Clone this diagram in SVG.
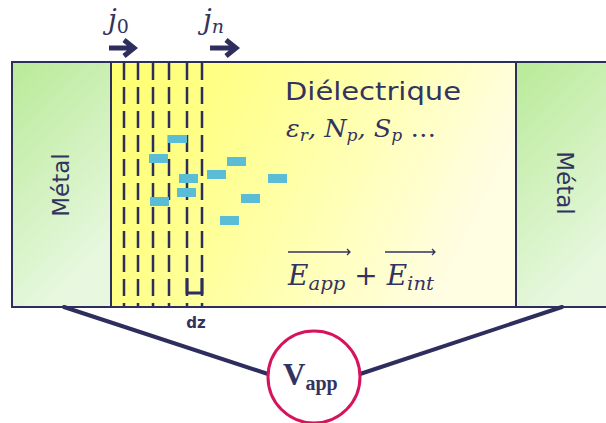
<svg xmlns="http://www.w3.org/2000/svg" width="606" height="423" viewBox="0 0 606 423">
<defs>
<linearGradient id="gMetal" x1="0" y1="0" x2="0.4" y2="1">
<stop offset="0" stop-color="#b9ea98"/>
<stop offset="1" stop-color="#e8f8e0"/>
</linearGradient>
<linearGradient id="gDiel" x1="0" y1="0" x2="1" y2="0.3">
<stop offset="0" stop-color="#ffff70"/>
<stop offset="0.3" stop-color="#ffff8a"/>
<stop offset="0.7" stop-color="#ffffbb"/>
<stop offset="1" stop-color="#fffde2"/>
</linearGradient>
<style>
.box{stroke:#2e2e5e;stroke-width:2}
.dash{stroke:#2e2e5e;stroke-width:2.5;stroke-dasharray:17 7;fill:none}
.trap{fill:#5bbcd6}
.conn{stroke:#2e2e5e;stroke-width:4;fill:none;stroke-linecap:round}
.arr{stroke:#2e2e5e;stroke-width:5;fill:none}
.sans{font-family:"DejaVu Sans","Liberation Sans",sans-serif;fill:#333360}
.math{font-family:"DejaVu Serif","Liberation Serif",serif;font-style:italic;fill:#333360}
.ov{stroke:#333360;stroke-width:1.3;fill:none}
</style>
</defs>
<g id="dielectrique">
<rect class="box" x="111" y="62" width="405" height="245" fill="url(#gDiel)"/>
<text class="sans" x="285" y="100" font-size="24" textLength="176" lengthAdjust="spacingAndGlyphs">Diélectrique</text>
<text class="math" x="286" y="137" font-size="24" textLength="150" lengthAdjust="spacingAndGlyphs">ε<tspan font-size="16" dy="4">r</tspan><tspan dy="-4">, N</tspan><tspan font-size="16" dy="4">p</tspan><tspan dy="-4">, S</tspan><tspan font-size="16" dy="4">p</tspan><tspan dy="-4" font-style="normal"> …</tspan></text>
</g>
<g id="metal-gauche">
<rect class="box" x="12" y="62" width="99" height="245" fill="url(#gMetal)"/>
<text class="sans" font-size="23" text-anchor="middle" transform="translate(69,185) rotate(-90)">Métal</text>
</g>
<g id="metal-droit">
<rect class="box" x="516" y="62" width="100" height="245" fill="url(#gMetal)"/>
<text class="sans" font-size="23" text-anchor="middle" transform="translate(557,183) rotate(90)">Métal</text>
</g>
<g id="plans">
<line class="dash" x1="124" y1="63" x2="124" y2="306"/>
<line class="dash" x1="138" y1="63" x2="138" y2="306"/>
<line class="dash" x1="153" y1="63" x2="153" y2="306"/>
<line class="dash" x1="169" y1="63" x2="169" y2="306"/>
<line class="dash" x1="187" y1="63" x2="187" y2="306"/>
<line class="dash" x1="202" y1="63" x2="202" y2="306"/>
<path d="M187 278 V293 H202 V278" stroke="#2e2e5e" stroke-width="3" fill="none"/>
<text x="196" y="328" font-size="15" font-weight="bold" text-anchor="middle" class="sans">dz</text>
</g>
<g id="pieges">
<rect class="trap" x="168" y="135" width="19" height="8"/>
<rect class="trap" x="149" y="154" width="19" height="9"/>
<rect class="trap" x="227" y="157" width="19" height="9"/>
<rect class="trap" x="207" y="170" width="19" height="9"/>
<rect class="trap" x="179" y="174" width="19" height="9"/>
<rect class="trap" x="268" y="174" width="19" height="9"/>
<rect class="trap" x="177" y="188" width="19" height="9"/>
<rect class="trap" x="241" y="194" width="19" height="9"/>
<rect class="trap" x="150" y="197" width="19" height="9"/>
<rect class="trap" x="220" y="216" width="19" height="9"/>
</g>
<g id="courants">
<text class="math" x="108" y="29" font-size="28">j<tspan font-size="19" dy="4" font-style="normal">0</tspan></text>
<path class="arr" d="M109 48 H133 M124 40 L134 48 L124 56"/>
<text class="math" x="203" y="29" font-size="28">j<tspan font-size="19" dy="4">n</tspan></text>
<path class="arr" d="M210 48 H235 M226 40 L236 48 L226 56"/>
</g>
<g id="champ">
<text class="math" x="288" y="285" font-size="27" textLength="146" lengthAdjust="spacingAndGlyphs">E<tspan font-size="19" dy="5">app</tspan><tspan dy="-5" font-style="normal"> + </tspan>E<tspan font-size="19" dy="5">int</tspan></text>
<path class="ov" d="M288 252 H350 M347 249 L350 252 L347 255"/>
<path class="ov" d="M385 252 H435 M432 249 L435 252 L432 255"/>
</g>
<g id="connecteurs">
<line class="conn" x1="64" y1="307" x2="268" y2="374"/>
<line class="conn" x1="360" y1="374" x2="562" y2="307"/>
</g>
<g id="source">
<circle cx="314" cy="377" r="46" fill="#ffffff" stroke="#d6145e" stroke-width="3"/>
<text x="283" y="385" font-family="'Liberation Serif','DejaVu Serif',serif" font-weight="bold" fill="#333360" font-size="31">V<tspan font-size="20" dy="5">app</tspan></text>
</g>
</svg>
